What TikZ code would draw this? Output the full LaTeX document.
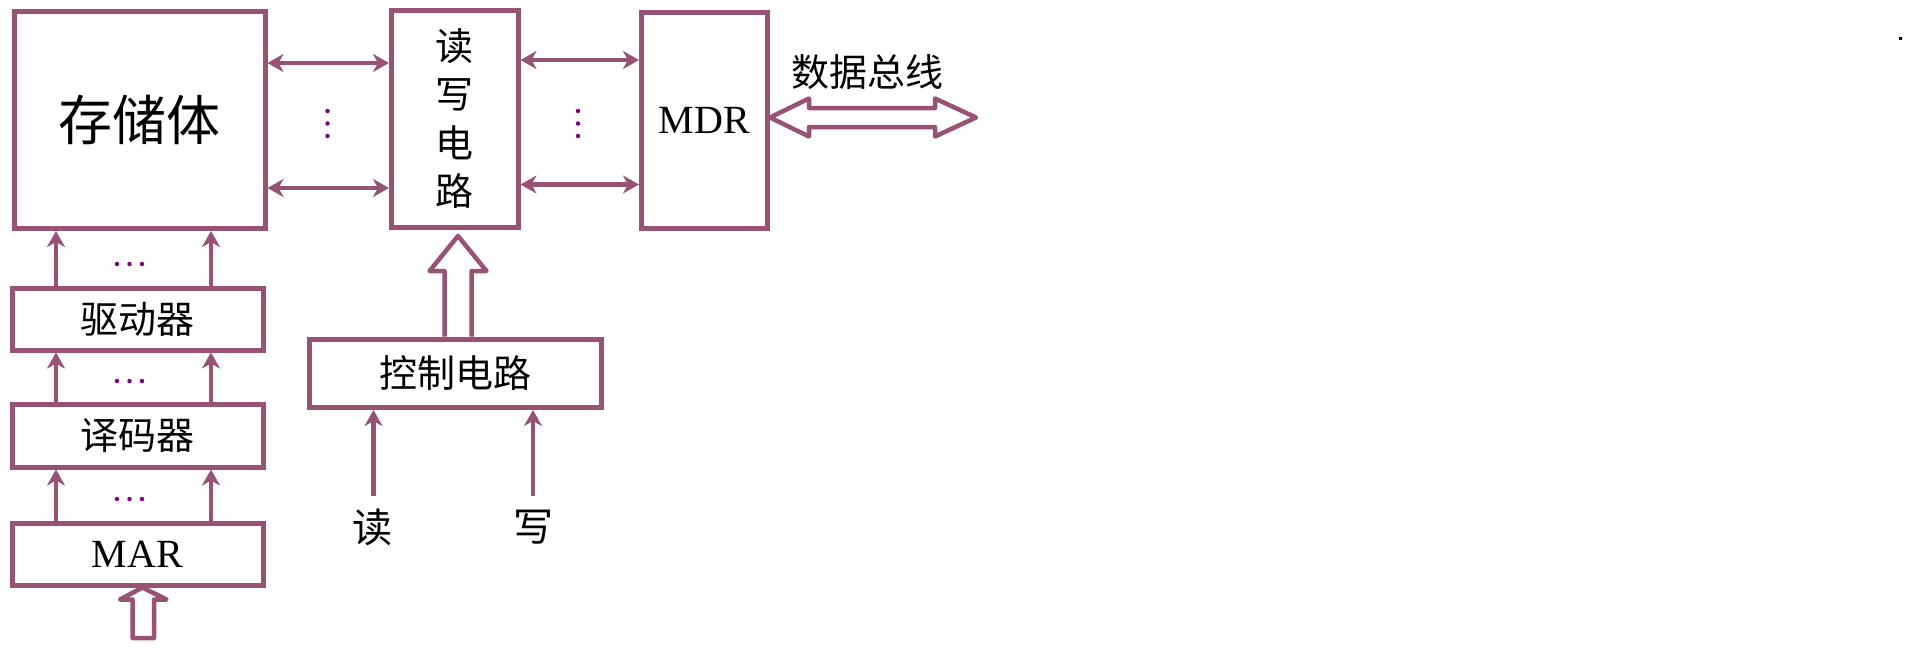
\documentclass[tikz,border=0pt]{standalone}
\usepackage{fontspec}
\setmainfont{Liberation Serif}
\newfontfamily\cjk{Noto Sans CJK SC}
\usetikzlibrary{arrows.meta}
\definecolor{boxc}{RGB}{152,82,115}
\definecolor{dotc}{RGB}{128,0,128}
\tikzset{
  blk/.style={draw=boxc, line width=5pt, fill=white, inner sep=0pt},
  ahead/.tip={Stealth[length=16pt,width=18pt,inset=5pt]},
  conn/.style={draw=boxc, line width=4.5pt, -ahead},
  dconn/.style={draw=boxc, line width=4.5pt, ahead-ahead},
  hollow/.style={draw=boxc, line width=4.5pt, fill=white, line join=round},
  dotm/.style={circle, fill=dotc, inner sep=0pt, minimum size=4.5pt},
  cjkbig/.style={font=\cjk\fontsize{54}{60}\selectfont},
  cjkmid/.style={font=\cjk\fontsize{38}{46}\selectfont},
  latmid/.style={font=\fontsize{40}{48}\selectfont},
}
\begin{document}
\begin{tikzpicture}[x=1pt,y=-1pt]
\useasboundingbox (0,0) rectangle (1920,654);
% boxes
\node[blk, cjkbig, minimum width=250.5pt, minimum height=217pt] (mem) at (139.75,120) {存储体};
\node[blk, align=center, font=\cjk\fontsize{38}{48.5}\selectfont, minimum width=126.5pt, minimum height=217pt] (rw) at (454.75,118.5) {读\\写\\电\\路};
\node[blk, latmid, minimum width=126pt, minimum height=216.5pt] (mdr) at (704.5,120.25) {MDR};
\node[blk, cjkmid, minimum width=251pt, minimum height=62pt] (drv) at (137.5,319) {驱动器};
\node[blk, cjkmid, minimum width=251pt, minimum height=62.5pt] (dec) at (137.5,435.75) {译码器};
\node[blk, latmid, minimum width=251pt, minimum height=61.5pt] (mar) at (137.5,554.25) {MAR};
\node[blk, cjkmid, minimum width=292.5pt, minimum height=68.5pt] (ctl) at (455.25,373.25) {控制电路};

% memory <-> read/write circuit
\draw[dconn] (mem.east |- 0,63) -- (rw.west |- 0,63);
\draw[dconn] (mem.east |- 0,188) -- (rw.west |- 0,188);
\node[dotm] (v1a) at (327.5,111) {};
\node[dotm] (v1b) at (327.5,123.5) {};
\node[dotm] (v1c) at (327.5,136) {};
% read/write circuit <-> MDR
\draw[dconn] (rw.east |- 0,60) -- (mdr.west |- 0,60);
\draw[dconn] (rw.east |- 0,184.5) -- (mdr.west |- 0,184.5);
\node[dotm] (v2a) at (578,111) {};
\node[dotm] (v2b) at (578,123.5) {};
\node[dotm] (v2c) at (578,136) {};

% left column arrows
\draw[conn] (drv.north -| 56,0) -- (mem.south -| 56,0);
\draw[conn] (drv.north -| 211,0) -- (mem.south -| 211,0);
\draw[conn] (dec.north -| 56,0) -- (drv.south -| 56,0);
\draw[conn] (dec.north -| 211,0) -- (drv.south -| 211,0);
\draw[conn] (mar.north -| 56,0) -- (dec.south -| 56,0);
\draw[conn] (mar.north -| 211,0) -- (dec.south -| 211,0);
\foreach \yy/\nm in {264/a,381/b,499/c}{
  \node[dotm] (h\nm1) at (117,\yy) {};
  \node[dotm] (h\nm2) at (129.5,\yy) {};
  \node[dotm] (h\nm3) at (142,\yy) {};
}

% hollow arrow into MAR
\coordinate (martip) at (mar.south -| 142.5,0);
\draw[hollow] (martip) -- ++(-22.5,12) -- ++(12.5,0) -- ++(0,38.5) -- ++(21.5,0) -- ++(0,-38.5) -- ++(12.5,0) -- cycle;

% hollow arrow from control circuit to read/write circuit
\coordinate (rwtip) at (458,236);
\draw[hollow] (ctl.north -| 444.5,0) -- (444.5,271) -- (429.5,271) -- (rwtip) -- (486.5,271) -- (471.5,271) -- (ctl.north -| 471.5,0);

% read / write inputs
\coordinate (rdin) at (373.5,496);
\coordinate (wrin) at (533,496);
\draw[conn] (rdin) -- (ctl.south -| rdin);
\draw[conn] (wrin) -- (ctl.south -| wrin);
\node[font=\cjk\fontsize{40}{48}\selectfont] (rdl) at (372,527) {读};
\node[font=\cjk\fontsize{40}{48}\selectfont] (wrl) at (533,527) {写};

% data bus
\coordinate (bustip) at (mdr.east |- 0,117.5);
\draw[hollow] (bustip) -- (809,98.5) -- (809,108) -- (935,108) -- (935,98.5) -- (976,117.5) -- (935,136.5) -- (935,127) -- (809,127) -- (809,136.5) -- cycle;
\node[cjkmid] (busl) at (867,72) {数据总线};

% stray dot
\fill (1898.5,36.5) rectangle (1901.5,39.5);
\end{tikzpicture}
\end{document}
